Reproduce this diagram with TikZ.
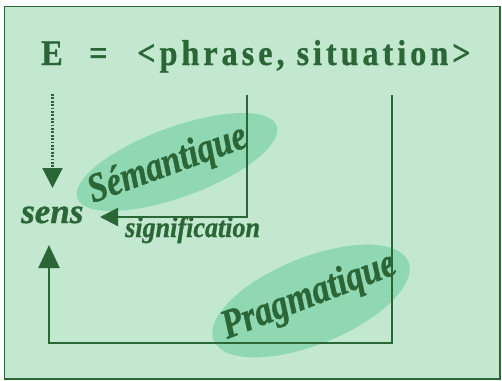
\documentclass[tikz,border=0pt]{standalone}
\usepackage{fontspec}
\setmainfont{Liberation Serif}
\usetikzlibrary{arrows.meta,shapes.geometric}
\definecolor{bgg}{HTML}{C2E8CF}
\definecolor{ell}{HTML}{8FD8B2}
\definecolor{dkg}{HTML}{2B6637}
\begin{document}
\begin{tikzpicture}[x=1pt,y=-1pt,
  conn/.style={draw=dkg, line width=2.2pt},
  blob/.style={ellipse, fill=ell, inner sep=0pt},
  ttl/.style={anchor=base west, inner sep=0pt, text=dkg, xscale=0.9,
    font=\fontsize{36}{36}\selectfont\bfseries\addfontfeature{FakeBold=0.8}},
  bi/.style={anchor=base west, inner sep=0pt, text=dkg,
    font=\fontsize{#1}{#1}\selectfont\bfseries\itshape\addfontfeature{FakeBold=1}}]
\useasboundingbox (0,0) rectangle (502,380);
\fill[white] (0,0) rectangle (502,380);
\draw[dkg, line width=1.5pt, fill=bgg] (4.5,6.5) rectangle (500,379);
% ellipses
\node[blob, minimum width=212pt, minimum height=70pt, rotate=20] (semell) at (177,162) {};
\node[blob, minimum width=210pt, minimum height=87pt, rotate=22] (pragell) at (311,301) {};
% title
\node[ttl] (E) at (41,65) {E};
\node[ttl] (eq) at (89,65) {=};
\node[ttl] (pair) at (137,65) {\addfontfeature{LetterSpace=12}<phrase, situation>};
% coordinates
\coordinate (df) at (52.5,94);
\coordinate (dtip) at (52.5,188);
\coordinate (pf) at (247,95);
\coordinate (semtip) at (100,217);
\coordinate (sf) at (392,95);
\coordinate (bl) at (49,343);
\coordinate (uptip) at (49,245);
% connectors
\draw[dkg, line width=2.2pt, dash pattern=on 1.8pt off 1.6pt, -{Triangle[length=20pt,width=20pt]}] (df) -- (dtip);
\draw[conn, -{Triangle[length=18pt,width=18pt]}] (pf) |- (semtip);
\draw[conn, -{Triangle[length=23pt,width=21pt]}] (sf) |- (bl) -- (uptip);
% texts
\node[bi=35] (sens) at (21,223) {sens};
\node[bi=29, xscale=0.9] (signif) at (125,237) {signification};
\node[bi=41, rotate=20, xscale=0.83] (sem) at (93,203) {Sémantique};
\node[bi=41, rotate=21, xscale=0.84] (prag) at (227,339) {Pragmatique};
\end{tikzpicture}
\end{document}
